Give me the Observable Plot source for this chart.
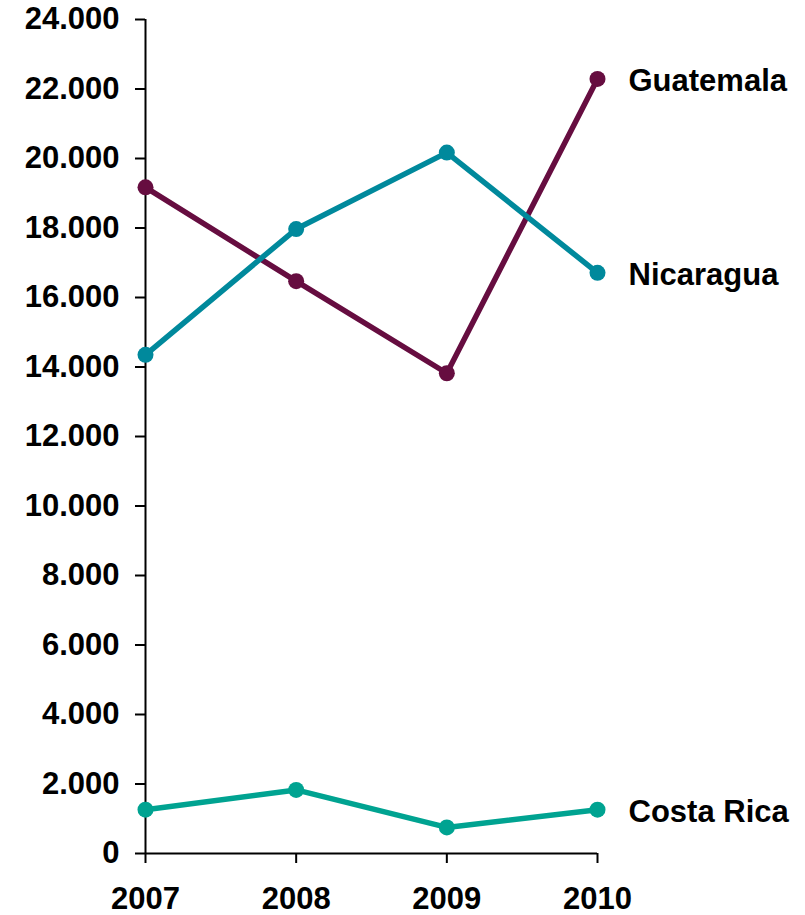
<!DOCTYPE html>
<html>
<head>
<meta charset="utf-8">
<script src="https://cdn.jsdelivr.net/npm/d3@7"></script>
<script src="https://cdn.jsdelivr.net/npm/@observablehq/plot@0.6"></script>
<style>
  html, body { margin: 0; padding: 0; background: #fff; }
  #chart svg { display: block; }
</style>
</head>
<body>
<div id="chart"></div>
<script>
// Years on the x axis
const years = [2007, 2008, 2009, 2010];

// Values per country, one per year
const guatemala = [19170, 16470, 13820, 22290];
const nicaragua = [14350, 17970, 20170, 16710];
const costaRica = [1260, 1830, 750, 1260];

const countries = ["Guatemala", "Nicaragua", "Costa Rica"];
const seriesValues = [guatemala, nicaragua, costaRica];
const colors = ["#660d40", "#00899c", "#00a391"];

// Y tick values and their labels (dot as thousands separator)
const yTicks = [0, 2000, 4000, 6000, 8000, 10000, 12000, 14000, 16000, 18000, 20000, 22000, 24000];
const fmt = d3.formatLocale({decimal: ",", thousands: ".", grouping: [3], currency: ["", ""]}).format(",d");

const rows = countries.flatMap((c, i) =>
  years.map((y, j) => ({country: c, year: y, value: seriesValues[i][j]}))
);
const lastRows = countries.map((c, i) => ({country: c, year: years[years.length - 1], value: seriesValues[i][years.length - 1]}));

const font = "'Liberation Sans', Arial, sans-serif";

const chart = Plot.plot({
  width: 805,
  height: 915,
  marginLeft: 145,
  marginRight: 208,
  marginTop: 19,
  marginBottom: 62,
  style: {fontFamily: font, fontSize: "31px", fontWeight: "bold", color: "#000", background: "#fff"},
  x: {domain: [2007, 2010]},
  y: {domain: [0, 24000]},
  color: {domain: countries, range: colors},
  marks: [
    Plot.axisY({
      ticks: yTicks,
      tickFormat: fmt,
      tickSize: 10,
      tickPadding: 16,
      strokeWidth: 2,
      stroke: "#000",
      fill: "#000",
      fontSize: 31,
      fontWeight: "bold",
      label: null
    }),
    Plot.axisX({
      ticks: years,
      tickFormat: d => String(d),
      tickSize: 10,
      tickPadding: 23,
      strokeWidth: 2,
      stroke: "#000",
      fill: "#000",
      fontSize: 31,
      fontWeight: "bold",
      label: null
    }),
    Plot.ruleX([2007], {stroke: "#000", strokeWidth: 2}),
    Plot.ruleY([0], {stroke: "#000", strokeWidth: 2}),
    Plot.line(rows, {x: "year", y: "value", z: "country", stroke: "country", strokeWidth: 5.5}),
    Plot.dot(rows, {x: "year", y: "value", fill: "country", r: 8}),
    Plot.text(lastRows, {
      x: "year", y: "value", text: "country",
      textAnchor: "start", dx: 31, dy: 2,
      fill: "#000", fontSize: 31, fontWeight: "bold"
    })
  ]
});

document.getElementById("chart").appendChild(chart);
</script>
</body>
</html>
